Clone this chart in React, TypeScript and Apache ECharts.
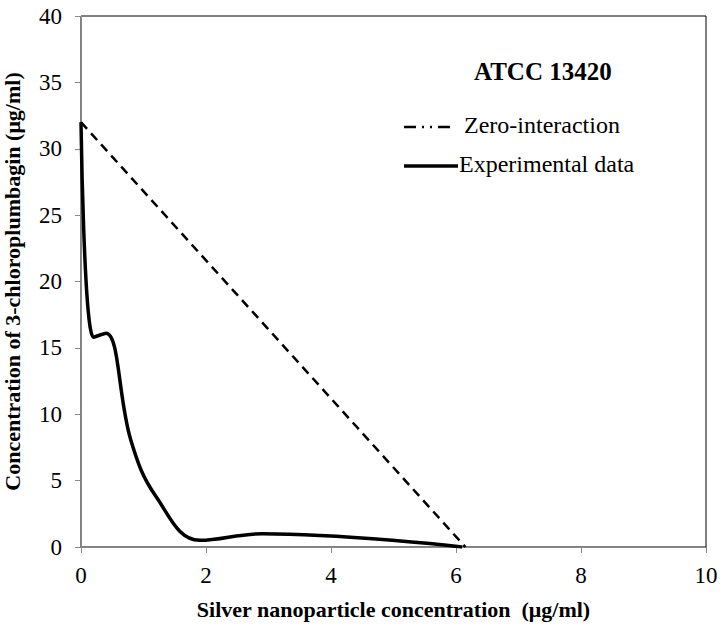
import React, { useEffect, useRef } from "react";
import * as echarts from "echarts";

const expX = [0, 0.2, 0.4, 0.8, 1.2, 1.9, 2.9, 6.1];
const expY = [32, 15.8, 16.1, 8, 3.8, 0.5, 1.0, 0];
const zeroX = [0, 6.15];
const zeroY = [32, 0];
const xTicks = [0, 2, 4, 6, 8, 10];
const yTicks = [0, 5, 10, 15, 20, 25, 30, 35, 40];

const FONT = "Liberation Serif";

export default function App() {
  const ref = useRef<HTMLDivElement>(null);
  useEffect(() => {
    if (!ref.current) return;
    const chart = echarts.init(ref.current, null, { renderer: "svg" });
    const L = 81, R = 706, T = 16, B = 547;
    chart.setOption({
      animation: false,
      backgroundColor: "#fff",
      textStyle: { fontFamily: FONT },
      grid: {
        left: L, right: 723 - R, top: T, bottom: 631 - B,
        outerBoundsMode: "none", containLabel: false,
        show: true, borderColor: "#000", borderWidth: 1, backgroundColor: "transparent",
      },
      xAxis: {
        type: "value", min: xTicks[0], max: xTicks[xTicks.length - 1], interval: 2,
        name: "Silver nanoparticle concentration  (μg/ml)",
        nameLocation: "middle", nameGap: 51,
        nameTextStyle: { fontFamily: FONT, fontSize: 22, fontWeight: "bold", color: "#000" },
        axisLine: { show: true, lineStyle: { color: "#888", width: 1 } },
        axisTick: { show: true, length: 6, lineStyle: { color: "#888" } },
        axisLabel: { fontFamily: FONT, fontSize: 23, color: "#000", margin: 17 },
        splitLine: { show: false },
      },
      yAxis: {
        type: "value", min: yTicks[0], max: yTicks[yTicks.length - 1], interval: 5,
        name: "Concentration of 3-chloroplumbagin (μg/ml)",
        nameLocation: "middle", nameGap: 58,
        nameTextStyle: { fontFamily: FONT, fontSize: 22, fontWeight: "bold", color: "#000" },
        axisLine: { show: true, lineStyle: { color: "#888", width: 1 } },
        axisTick: { show: true, length: 6, lineStyle: { color: "#888" } },
        axisLabel: { fontFamily: FONT, fontSize: 23, color: "#000", margin: 19 },
        splitLine: { show: false },
      },
      series: [
        {
          name: "Zero-interaction", type: "line", showSymbol: false,
          data: zeroX.map((x, i) => [x, zeroY[i]]),
          lineStyle: { color: "#000", width: 2.5, type: [9, 6] },
        },
        {
          name: "Experimental data", type: "line", showSymbol: false, smooth: 0.4,
          data: expX.map((x, i) => [x, expY[i]]),
          lineStyle: { color: "#000", width: 3.5 },
        },
      ],
      graphic: [
        {
          type: "text", left: 474, top: 59,
          style: { text: "ATCC 13420", fontFamily: FONT, fontSize: 25, fontWeight: "bold", fill: "#000" },
        },
        {
          type: "line", shape: { x1: 404, y1: 127, x2: 450, y2: 127 },
          style: { stroke: "#000", lineWidth: 2.5, lineDash: [12, 6, 2, 6, 2, 6, 12] },
        },
        {
          type: "text", left: 464, top: 113,
          style: { text: "Zero-interaction", fontFamily: FONT, fontSize: 24, fill: "#000" },
        },
        {
          type: "line", shape: { x1: 404, y1: 166, x2: 458, y2: 166 },
          style: { stroke: "#000", lineWidth: 3.5 },
        },
        {
          type: "text", left: 459, top: 152,
          style: { text: "Experimental data", fontFamily: FONT, fontSize: 24, fill: "#000" },
        },
      ],
    });
    return () => chart.dispose();
  }, []);
  return <div ref={ref} style={{ width: 723, height: 631, position: "absolute", left: 0, top: 0 }} />;
}
